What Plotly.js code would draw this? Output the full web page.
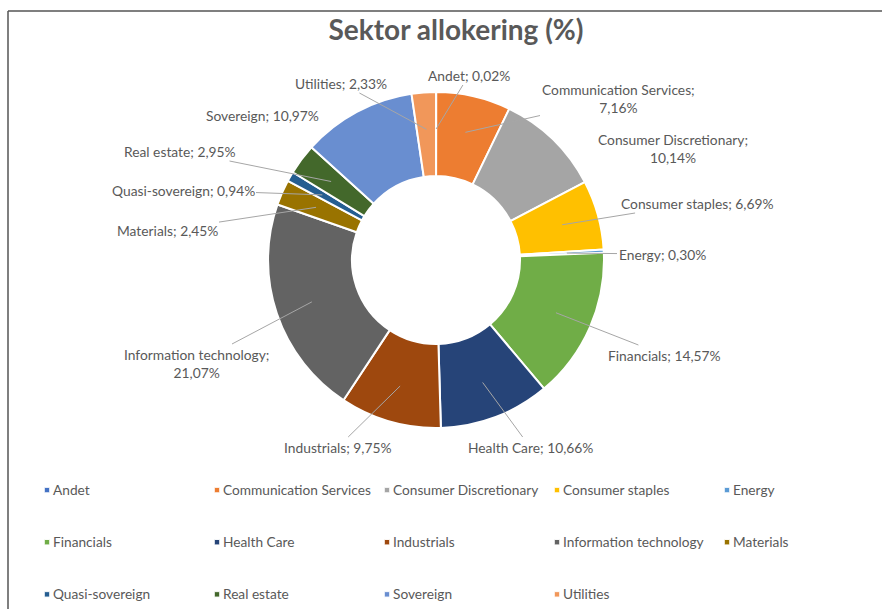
<!DOCTYPE html>
<html>
<head>
<meta charset="utf-8">
<script src="https://cdn.plot.ly/plotly-3.0.1.min.js"></script>
<style>
  html, body { margin: 0; padding: 0; background: #ffffff; }
  #chart { width: 882px; height: 609px; }
  .legendpie { transform: translate(34px, 0px) scale(0.45); }
</style>
</head>
<body>
<div id="chart"></div>
<script>
// ---- data ----
const categories = ["Andet", "Communication Services", "Consumer Discretionary", "Consumer staples",
  "Energy", "Financials", "Health Care", "Industrials", "Information technology", "Materials",
  "Quasi-sovereign", "Real estate", "Sovereign", "Utilities"];
const values = [0.02, 7.16, 10.14, 6.69, 0.30, 14.57, 10.66, 9.75, 21.07, 2.45, 0.94, 2.95, 10.97, 2.33];
const titleText = "Sektor allokering (%)";

// ---- style ----
const colors = ["#4472C4", "#ED7D31", "#A5A5A5", "#FFC000", "#5B9BD5", "#70AD47", "#264478",
  "#9E480E", "#636363", "#997300", "#255E91", "#43682B", "#698ED0", "#F1975A"];
const W = 882, H = 609;
const domX = [0.3039, 0.6848], domY = [0.2972, 0.8489];
const wrapLabels = ["Communication Services", "Consumer Discretionary", "Information technology"];
const noArrow = ["Consumer Discretionary", "Sovereign"];
// label text centres (pixels), in category order
const labelPos = [[469, 75], [618, 98], [673, 148], [697, 203], [662, 254], [664, 355], [530, 447],
  [338, 447], [196, 363], [167, 230], [183, 190], [180, 151], [262, 115], [341, 83]];
const headFrac = 0.78;
const labelFont = { family: 'Lato', size: 13.8, color: '#595959' };

const fmt = v => v.toFixed(2).replace('.', ',');

// slice geometry derived from the data
const total = values.reduce((a, b) => a + b, 0);
const cx = W * (domX[0] + domX[1]) / 2;
const cy = H * (1 - (domY[0] + domY[1]) / 2);
const R = Math.min(W * (domX[1] - domX[0]), H * (domY[1] - domY[0])) / 2;
let cum = 0;
const annotations = categories.map((c, i) => {
  const mid = (cum + values[i] / 2) / total * 2 * Math.PI;
  cum += values[i];
  const hx = cx + R * headFrac * Math.sin(mid);
  const hy = cy - R * headFrac * Math.cos(mid);
  const txt = c + (wrapLabels.includes(c) ? ";<br>" : "; ") + fmt(values[i]) + "%";
  const [lx, ly] = labelPos[i];
  if (noArrow.includes(c)) {
    return { text: txt, x: lx / W, y: 1 - ly / H, xref: 'paper', yref: 'paper',
      showarrow: false, align: 'center', xanchor: 'center', yanchor: 'middle', font: labelFont };
  }
  return { text: txt, x: hx / W, y: 1 - hy / H, xref: 'paper', yref: 'paper',
    showarrow: true, arrowhead: 0, arrowwidth: 1, arrowcolor: '#A6A6A6', standoff: 0,
    ax: lx - hx, ay: ly - hy, align: 'center', font: labelFont };
});

const trace = {
  type: 'pie',
  labels: categories.map(c => '<br><span style="font-size:13.7px">' + c + '</span><br>'),
  values: values,
  hole: 0.5,
  sort: false,
  direction: 'clockwise',
  rotation: 0,
  textinfo: 'none',
  hoverinfo: 'none',
  marker: { colors: colors, line: { color: '#ffffff', width: 2 } },
  domain: { x: domX, y: domY },
  showlegend: true
};

const layout = {
  width: W, height: H,
  margin: { l: 0, r: 0, t: 0, b: 0, autoexpand: false },
  paper_bgcolor: '#ffffff',
  font: { family: 'Lato', color: '#595959' },
  title: { text: titleText, x: 0.517, xanchor: 'center', y: 1 - 30 / H, yanchor: 'middle',
    xref: 'paper', yref: 'container',
    font: { family: 'Lato', size: 28, color: '#595959', weight: 700 } },
  showlegend: true,
  legend: { orientation: 'h', x: 13 / W, xanchor: 'left', y: 1 - 459 / H, yanchor: 'top',
    entrywidth: 125, entrywidthmode: 'pixels', traceorder: 'normal',
    font: { family: 'Lato', size: 12.6, color: '#595959' }, bgcolor: 'rgba(0,0,0,0)' },
  annotations: annotations,
  shapes: [
    { type: 'line', xref: 'paper', yref: 'paper', x0: 8 / W, x1: 1.01, y0: 1 - 11 / H, y1: 1 - 11 / H,
      line: { color: '#555555', width: 1.5 } },
    { type: 'line', xref: 'paper', yref: 'paper', x0: 8 / W, x1: 8 / W, y0: 1 - 11 / H, y1: -0.01,
      line: { color: '#555555', width: 1.5 } }
  ]
};

Plotly.newPlot('chart', [trace], layout, { displayModeBar: false, staticPlot: true });
</script>
</body>
</html>
